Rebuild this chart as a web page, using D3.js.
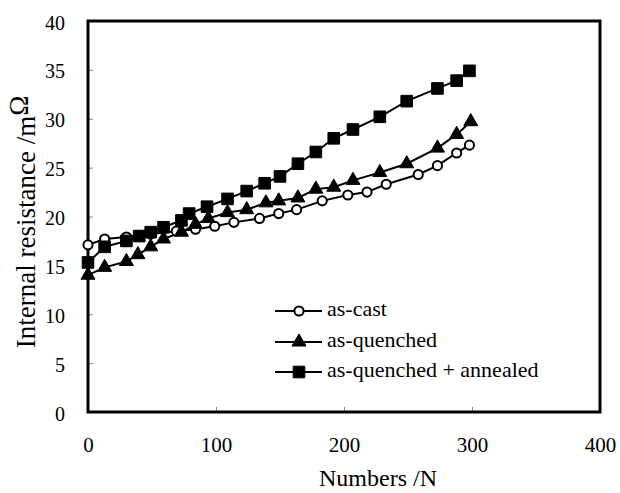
<!DOCTYPE html>
<html><head><meta charset="utf-8">
<script src="https://cdn.jsdelivr.net/npm/d3@7"></script>
<style>
html,body{margin:0;padding:0;background:#fff;}
svg text{font-family:"Liberation Serif","Times New Roman",Times,"DejaVu Serif",serif !important;fill:#000;}
</style></head>
<body>
<svg id="chart" width="620" height="493"></svg>
<script>
// ---- data ----
const castN   = [0, 13, 30, 49, 69, 84, 99, 114, 134, 149, 163, 183, 203, 218, 233, 258, 273, 288, 298];
const castR   = [17.1, 17.7, 17.9, 18.2, 18.5, 18.7, 19.0, 19.4, 19.8, 20.3, 20.7, 21.6, 22.2, 22.5, 23.3, 24.3, 25.2, 26.5, 27.3];
const quenchN = [0, 13, 30, 39, 49, 59, 73, 84, 94, 109, 124, 139, 149, 164, 178, 192, 207, 228, 249, 273, 288, 299];
const quenchR = [14.0, 14.8, 15.4, 16.1, 16.9, 17.7, 18.4, 19.2, 19.8, 20.4, 20.7, 21.4, 21.6, 21.9, 22.8, 23.0, 23.7, 24.5, 25.4, 27.0, 28.4, 29.7];
const annealN = [0, 13, 30, 40, 49, 59, 73, 79, 93, 109, 124, 138, 150, 164, 178, 192, 207, 228, 249, 273, 288, 298];
const annealR = [15.3, 16.9, 17.5, 18.0, 18.4, 18.9, 19.6, 20.3, 21.0, 21.8, 22.6, 23.4, 24.1, 25.4, 26.6, 28.0, 28.9, 30.2, 31.8, 33.1, 33.9, 34.9];
const xTicks = [0, 100, 200, 300, 400];
const yTicks = [0, 5, 10, 15, 20, 25, 30, 35, 40];
const seriesNames = ["as-cast", "as-quenched", "as-quenched + annealed"];
const seriesSymbols = ["circle", "triangle", "square"];

// ---- layout ----
const FONT = "'Liberation Serif','Times New Roman',Times,'DejaVu Serif',serif";
const svg = d3.select("#chart").style("font-family", FONT);
const L = 88, R = 600, T = 21, B = 412;
const x = d3.scaleLinear().domain([0, 400]).range([L, R]);
const y = d3.scaleLinear().domain([0, 40]).range([B, T]);

// inner ticks
svg.append("g").attr("transform", `translate(${L},0)`)
  .call(d3.axisRight(y).tickValues(yTicks.slice(1, -1)).tickSize(5).tickFormat(""))
  .call(g => g.select(".domain").remove())
  .call(g => g.selectAll("line").attr("stroke", "#888").attr("stroke-width", 1));
svg.append("g").attr("transform", `translate(0,${B})`)
  .call(d3.axisTop(x).tickValues(xTicks.slice(1, -1)).tickSize(5).tickFormat(""))
  .call(g => g.select(".domain").remove())
  .call(g => g.selectAll("line").attr("stroke", "#888").attr("stroke-width", 1));

// tick labels
svg.append("g").attr("transform", `translate(65,0)`)
  .call(d3.axisLeft(y).tickValues(yTicks).tickSize(0).tickPadding(0))
  .attr("font-family", null)
  .call(g => g.select(".domain").remove())
  .call(g => g.selectAll("text").attr("font-size", 20).style("font-family", FONT).attr("fill", "#000").attr("dy", "0.4em"));
svg.append("g").attr("transform", `translate(0,437)`)
  .call(d3.axisBottom(x).tickValues(xTicks).tickSize(0).tickPadding(0))
  .attr("font-family", null)
  .call(g => g.select(".domain").remove())
  .call(g => g.selectAll("text").attr("font-size", 21).style("font-family", FONT).attr("fill", "#000"));

// frame
svg.append("rect").attr("x", L).attr("y", T).attr("width", R - L).attr("height", B - T)
  .attr("fill", "none").attr("stroke", "#000").attr("stroke-width", 3);

// axis titles
svg.append("text").attr("x", 378).attr("y", 486).attr("text-anchor", "middle")
  .attr("font-size", 24).style("font-family", FONT).text("Numbers /N");
const yt = svg.append("text").attr("transform", `translate(35,222) rotate(-90)`)
  .attr("text-anchor", "middle").attr("font-size", 27).style("font-family", FONT);
yt.append("tspan").text("Internal resistance /m");
yt.append("tspan").attr("dy", -7).text("Ω");

// series
const series = [
  {N: castN, R: castR, sym: "circle"},
  {N: quenchN, R: quenchR, sym: "triangle"},
  {N: annealN, R: annealR, sym: "square"}
];
const line = d3.line().x(d => x(d[0])).y(d => y(d[1]));
const symGen = {
  circle: d3.symbol().type(d3.symbolCircle).size(66),
  triangle: d3.symbol().type(d3.symbolTriangle).size(85),
  square: d3.symbol().type(d3.symbolSquare).size(135)
};
function drawMarker(g, sym, cx, cy) {
  const p = g.append("path").attr("d", symGen[sym]()).attr("transform", `translate(${cx},${cy})`);
  if (sym === "circle") p.attr("fill", "#fff").attr("stroke", "#000").attr("stroke-width", 2);
  else p.attr("fill", "#000").attr("stroke", "#000").attr("stroke-width", 1);
}
series.forEach(s => {
  const pts = s.N.map((n, i) => [n, s.R[i]]);
  svg.append("path").attr("d", line(pts)).attr("fill", "none").attr("stroke", "#000").attr("stroke-width", 2);
});
series.forEach(s => {
  const g = svg.append("g");
  s.N.forEach((n, i) => drawMarker(g, s.sym, x(n), y(s.R[i])));
});

// legend
const legY = [311, 342, 372];
seriesNames.forEach((name, i) => {
  const g = svg.append("g");
  g.append("line").attr("x1", 275).attr("x2", 322).attr("y1", legY[i]).attr("y2", legY[i])
    .attr("stroke", "#000").attr("stroke-width", 2);
  drawMarker(g, seriesSymbols[i], 299, legY[i]);
  g.append("text").attr("x", 327).attr("y", legY[i] + 5).attr("font-size", 22)
    .style("font-family", FONT).text(name);
});
</script>
</body></html>
